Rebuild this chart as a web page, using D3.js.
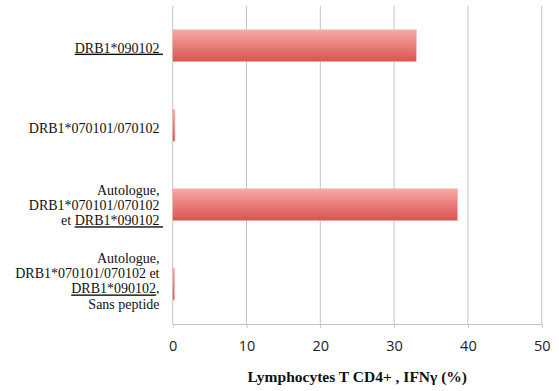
<!DOCTYPE html>
<html><head><meta charset="utf-8">
<script src="https://cdn.jsdelivr.net/npm/d3@7"></script>
<style>body{margin:0;background:#fff}svg{display:block}text{white-space:pre}
.serif{font-family:"Liberation Serif","Times New Roman",Times,"DejaVu Serif",serif}
.sans{font-family:"Open Sans","Liberation Sans",sans-serif}</style>
</head><body>
<svg id="c" width="559" height="391"></svg>
<script>
// Data
const categories = ["c1", "c2", "c3", "c4"];
// each category label: array of lines, each line an array of [text, underlined]
const categoryLabels = [
  [[["DRB1*090102 ", true]]],
  [[["DRB1*070101/070102 ", false]]],
  [[["Autologue, ", false]], [["DRB1*070101/070102 ", false]], [["et ", false], ["DRB1*090102 ", true]]],
  [[["Autologue, ", false]], [["DRB1*070101/070102 et ", false]], [["DRB1*090102", true], [", ", false]], [["Sans peptide ", false]]]
];
const values = [33.0, 0.3, 38.6, 0.25];
const xTicks = [0, 10, 20, 30, 40, 50];
const xTitle = "Lymphocytes T CD4+ , IFNγ (%)";

const svg = d3.select("#c");
const m = {left: 172.7, right: 541.7, top: 6, bottom: 324};
const x = d3.scaleLinear().domain([0, 50]).range([m.left, m.right]);
const y = d3.scaleBand().domain(categories).range([m.top, m.bottom]).paddingInner(0.6).paddingOuter(0.3);

const defs = svg.append("defs");
const g = defs.append("linearGradient").attr("id", "bg").attr("x1", 0).attr("y1", 0).attr("x2", 0).attr("y2", 1);
g.append("stop").attr("offset", "0%").attr("stop-color", "#f7a9a6");
g.append("stop").attr("offset", "100%").attr("stop-color", "#d9534e");

// gridlines
svg.append("g").selectAll("line").data(xTicks).join("line")
  .attr("x1", d => x(d)).attr("x2", d => x(d))
  .attr("y1", m.top).attr("y2", m.bottom)
  .attr("stroke", "#c4c4c4").attr("stroke-width", 1);

// bottom axis
const ax = svg.append("g").attr("transform", `translate(0,${m.bottom})`)
  .call(d3.axisBottom(x).tickValues(xTicks).tickSize(4).tickPadding(13).tickSizeOuter(0));
ax.attr("font-family", null).attr("font-size", null);
ax.select(".domain").attr("stroke", "#c4c4c4");
ax.selectAll(".tick line").attr("stroke", "#c4c4c4");
ax.selectAll(".tick text").attr("class", "sans").style("font-size", "14.5px").attr("fill", "#222");

// bars
svg.append("g").selectAll("rect").data(values).join("rect")
  .attr("x", x(0))
  .attr("y", (d, i) => y(categories[i]))
  .attr("width", d => x(d) - x(0))
  .attr("height", y.bandwidth())
  .attr("fill", "url(#bg)")
  .attr("stroke", "#e8b8b6").attr("stroke-width", 0.6);

// category labels
const lh = 15.2;
const shift = [2, 3, 0.4, -3.3];
const lab = svg.append("g");
categoryLabels.forEach((lines, i) => {
  const cy = y(categories[i]) + y.bandwidth() / 2 + shift[i];
  const n = lines.length;
  lines.forEach((parts, j) => {
    const t = lab.append("text").attr("class", "serif").style("font-size", "14px").attr("fill", "#111")
      .attr("x", 163).attr("text-anchor", "end")
      .attr("y", cy + (j - (n - 1) / 2) * lh).attr("dy", "0.35em");
    parts.forEach(([s, u]) => {
      t.append("tspan").text(s).style("text-decoration", u ? "underline" : "none");
    });
  });
});

// axis title
svg.append("text").attr("class", "serif").attr("x", (x(0) + x(50)) / 2).attr("y", 377).attr("dy", "0.35em")
  .attr("text-anchor", "middle")
  .style("font-weight", "bold").style("font-size", "15.5px").attr("fill", "#111").text(xTitle);
</script>
</body></html>
